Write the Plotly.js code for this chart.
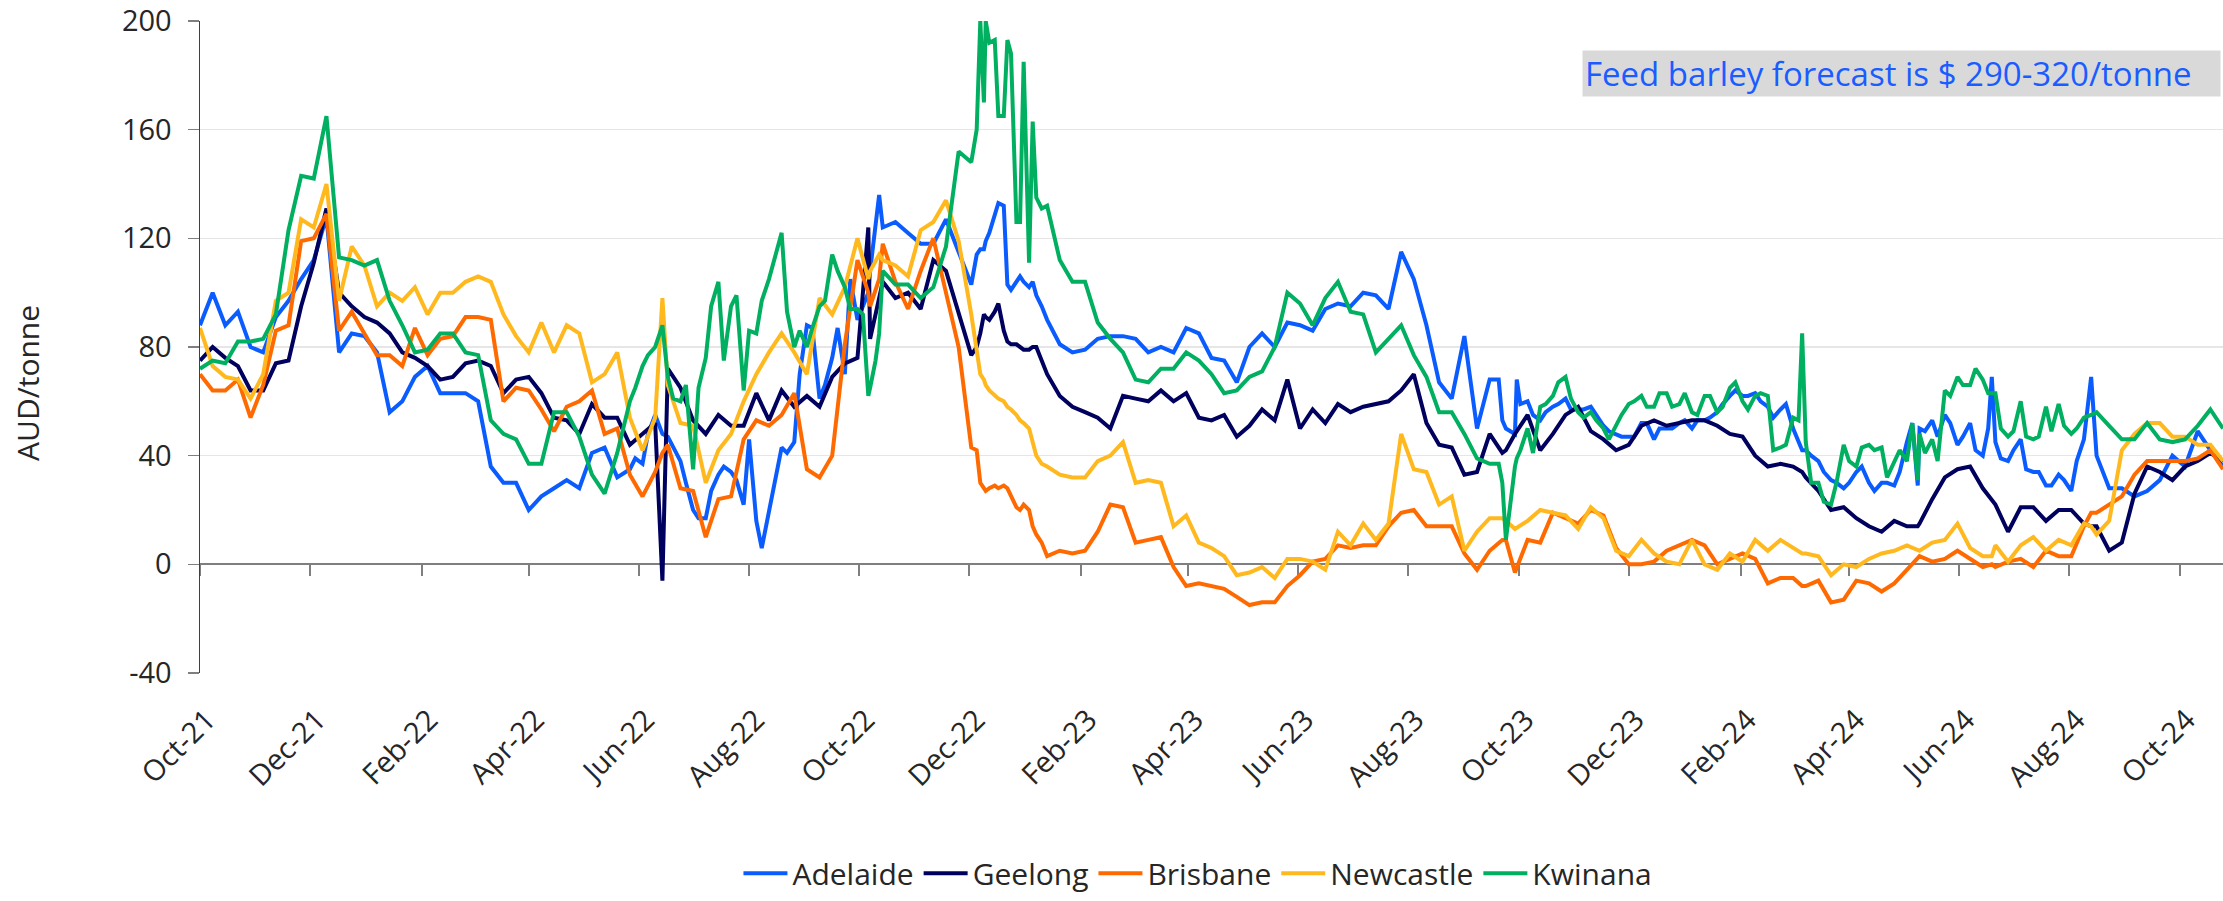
<!DOCTYPE html>
<html>
<head>
<meta charset="utf-8">
<script src="https://cdn.plot.ly/plotly-3.0.1.min.js"></script>
<style>
  html, body { margin: 0; padding: 0; background: #ffffff; }
  #chart { width: 2223px; height: 901px; }
</style>
</head>
<body>
<div id="chart"></div>
<script>
const dates = [
"2021-10-01","2021-10-08","2021-10-15","2021-10-22","2021-10-29",
"2021-11-05","2021-11-12","2021-11-19","2021-11-26",
"2021-12-03","2021-12-10","2021-12-17","2021-12-24","2021-12-31",
"2022-01-07","2022-01-14","2022-01-21","2022-01-28",
"2022-02-04","2022-02-11","2022-02-18","2022-02-25",
"2022-03-04","2022-03-11","2022-03-18","2022-03-25",
"2022-04-01","2022-04-08","2022-04-15","2022-04-22","2022-04-29",
"2022-05-06","2022-05-13","2022-05-20","2022-05-27",
"2022-06-03","2022-06-10","2022-06-14","2022-06-17","2022-06-24",
"2022-07-01","2022-07-08","2022-07-15","2022-07-22","2022-07-29",
"2022-08-05","2022-08-12","2022-08-19","2022-08-26",
"2022-09-02","2022-09-09","2022-09-16","2022-09-23","2022-09-30",
"2022-10-06","2022-10-07","2022-10-12","2022-10-14","2022-10-21","2022-10-28",
"2022-11-04","2022-11-11","2022-11-18","2022-11-25",
"2022-12-02","2022-12-05","2022-12-07","2022-12-09","2022-12-10","2022-12-12","2022-12-15","2022-12-17","2022-12-20","2022-12-22","2022-12-24","2022-12-27","2022-12-29","2022-12-31",
"2023-01-03","2023-01-05","2023-01-07","2023-01-10","2023-01-13","2023-01-20","2023-01-27",
"2023-02-03","2023-02-10","2023-02-17","2023-02-24",
"2023-03-03","2023-03-10","2023-03-17","2023-03-24","2023-03-31",
"2023-04-07","2023-04-14","2023-04-21","2023-04-28",
"2023-05-05","2023-05-12","2023-05-19","2023-05-26",
"2023-06-02","2023-06-09","2023-06-16","2023-06-23","2023-06-30",
"2023-07-07","2023-07-14","2023-07-21","2023-07-28",
"2023-08-04","2023-08-11","2023-08-18","2023-08-25",
"2023-09-01","2023-09-08","2023-09-15","2023-09-22","2023-09-24","2023-09-29",
"2023-10-06","2023-10-13","2023-10-20","2023-10-27",
"2023-11-03","2023-11-10","2023-11-17","2023-11-24",
"2023-12-01","2023-12-08","2023-12-15","2023-12-22","2023-12-29",
"2024-01-05","2024-01-12","2024-01-19","2024-01-26",
"2024-02-02","2024-02-09","2024-02-16","2024-02-23",
"2024-03-01","2024-03-06","2024-03-08","2024-03-15","2024-03-22","2024-03-29",
"2024-04-05","2024-04-12","2024-04-19","2024-04-26",
"2024-05-03","2024-05-09","2024-05-10","2024-05-17","2024-05-24","2024-05-31",
"2024-06-07","2024-06-14","2024-06-19","2024-06-21","2024-06-28",
"2024-07-05","2024-07-12","2024-07-19","2024-07-26",
"2024-08-02","2024-08-09","2024-08-13","2024-08-16","2024-08-23","2024-08-30",
"2024-09-06","2024-09-13","2024-09-20","2024-09-27",
"2024-10-04","2024-10-11","2024-10-18","2024-10-25"
];

const adelaide = [
88,100,88,93,80,
78,91,97,105,
112,128,78,85,84,
78,56,60,69,
73,63,63,63,
60,36,30,30,
20,25,28,31,28,
41,43,32,35,
37,55,48,47,38,
20,17,33,34,22,
16,20,43,45,
88,61,76,70,90,
100,108,136,124,126,122,
118,118,127,115,
103,114,116,116,119,122,129,133,132,103,101,104,106,104,
102,104,99,95,90,81,78,
79,83,84,84,
83,78,80,78,87,
85,76,75,67,
80,85,80,89,
88,86,94,96,95,
100,99,94,115,
105,88,67,61,
84,50,68,53,50,48,
60,53,58,61,
57,58,51,48,
47,52,46,50,52,
50,53,56,62,
62,63,58,57,
50,42,42,38,31,28,
34,30,30,29,
45,29,50,53,55,44,
52,40,69,45,38,
46,34,29,33,
27,46,69,40,28,28,
25,27,31,40,
36,49,42,36
];

const geelong = [
75,80,76,73,64,
64,74,75,95,
111,131,100,95,91,
89,85,78,76,
73,68,69,74,
75,73,63,68,
69,63,54,53,48,
59,54,54,44,
48,52,-6,72,65,
53,48,55,51,51,
63,53,64,58,
62,58,69,74,76,
124,83,99,104,98,100,
94,112,108,93,
77,80,85,92,91,90,93,96,86,82,81,81,80,79,
79,80,80,75,70,62,58,
56,54,50,62,
61,60,64,60,63,
54,53,55,47,
51,57,53,68,
50,57,52,59,56,
58,59,60,64,
70,52,44,43,
33,34,48,41,42,48,
55,42,48,55,
58,49,46,42,
44,51,53,51,52,
53,53,51,48,
47,40,36,37,
36,34,32,27,20,21,
17,14,12,16,
14,14,15,24,32,35,
36,28,24,22,12,
21,21,16,20,
20,15,14,14,5,8,
26,36,34,31,
36,38,41,38
];

const brisbane = [
70,64,64,68,54,
66,86,88,119,
120,129,86,93,85,
77,77,73,87,
77,83,84,91,
91,90,60,65,
64,57,49,58,60,
64,48,50,33,
25,34,41,44,28,
27,10,24,25,46,
53,51,55,63,
35,32,40,81,112,
100,95,105,118,104,94,
108,120,100,80,
43,42,30,28,27,28,29,28,29,28,25,21,20,22,
20,14,11,8,3,5,4,
5,12,22,21,
8,9,10,-1,-8,
-7,-8,-9,-12,
-15,-14,-14,-8,
-4,1,2,7,6,
7,7,14,19,
20,14,14,14,
4,-2,5,9,9,-3,
9,8,19,17,
15,20,18,6,
0,0,1,5,7,
9,7,0,2,
4,2,-7,-5,
-5,-8,-8,-6,-14,-13,
-6,-7,-10,-7,
-2,2,3,1,2,5,
2,-1,0,-1,1,
2,-1,5,3,
3,14,19,19,22,25,
33,38,38,38,
38,39,42,35
];

const newcastle = [
87,73,69,68,61,
70,97,100,127,
124,140,97,117,110,
95,100,97,102,
92,100,100,104,
106,104,92,84,
78,89,78,88,85,
67,70,78,54,
42,54,98,66,52,
51,30,42,48,60,
70,78,85,78,
70,98,92,102,120,
105,108,114,112,110,106,
123,126,134,119,
92,80,70,68,66,64,62,61,60,58,57,55,53,52,
50,45,40,37,36,33,32,
32,38,40,45,
30,31,30,14,18,
8,6,3,-4,
-3,-1,-5,2,
2,1,-2,12,7,
15,9,15,48,
35,34,22,25,
5,12,17,17,16,13,
16,20,19,18,
13,21,17,5,
3,9,4,1,0,
9,0,-2,4,
1,9,5,9,
6,4,4,3,-4,0,
-1,2,4,5,
7,5,5,8,9,15,
6,3,3,7,1,
7,10,5,9,
7,15,14,11,16,42,
48,52,52,47,
47,44,44,38
];

const kwinana = [
72,75,74,82,82,
83,92,123,143,
142,165,113,112,110,
112,97,88,78,
79,85,85,78,
77,53,48,46,
37,37,56,56,47,
33,26,41,60,
73,80,88,69,60,
35,76,104,95,64,
85,105,122,80,
80,95,114,102,94,
62,65,85,108,103,103,
98,102,117,152,
148,160,200,170,200,192,193,165,165,193,188,126,126,185,
111,163,135,131,132,112,104,
104,89,83,78,
68,67,72,72,78,
75,70,63,64,
69,71,80,100,
96,88,98,104,93,
92,78,83,88,
77,69,56,56,
48,39,37,30,9,36,
50,58,62,69,
56,56,50,51,
59,62,58,63,59,
56,62,56,65,
60,62,62,43,
54,85,45,30,22,44,
36,44,43,38,
38,31,48,46,64,69,
66,68,63,63,47,
60,46,58,59,
48,54,55,56,51,46,
46,52,46,45,
46,51,57,50
];

// extra mid-week readings for the two spikiest series (Adelaide, Kwinana)
const midDates = [
"2022-05-30","2022-06-06","2022-06-20","2022-06-27","2022-07-04","2022-07-11","2022-07-18","2022-07-25",
"2022-08-01","2022-08-08","2022-08-15","2022-08-22","2022-08-29","2022-09-05","2022-09-12","2022-09-19",
"2022-09-26","2022-10-03","2022-10-10",
"2023-09-20","2023-09-30",
"2023-10-02","2023-10-09","2023-10-16","2023-10-23","2023-10-30","2023-11-06","2023-11-13","2023-11-20",
"2023-11-27","2023-12-04","2023-12-11","2023-12-18","2023-12-25","2024-01-01","2024-01-08","2024-01-15",
"2024-01-22","2024-01-29","2024-02-05","2024-02-12","2024-02-19","2024-02-26","2024-03-04","2024-03-11",
"2024-03-18","2024-03-25","2024-04-01","2024-04-08","2024-04-15","2024-04-22","2024-04-29","2024-05-06",
"2024-05-13","2024-05-20","2024-05-27","2024-06-03","2024-06-10","2024-06-17","2024-06-24","2024-07-01",
"2024-07-08","2024-07-15","2024-07-22","2024-07-29","2024-08-05"
];

const adelaideMid = [
39,48,43,30,17,27,36,31,
46,6,29,41,70,87,66,87,
105,95,126,
68,68,
59,55,56,59,57,57,55,49,
47,47,52,50,50,53,53,54,
59,64,62,60,54,59,45,40,
34,30,30,36,27,30,34,52,
49,47,52,47,42,50,39,42,
35,34,29,31,38
];

const kwinanaMid = [
65,77,61,66,65,95,75,99,
86,97,112,93,86,87,97,108,
94,92,75,
37,39,
42,41,59,67,61,54,53,46,
55,60,58,63,58,63,55,62,
58,67,57,63,42,44,53,30,
23,30,38,43,42,32,42,52,
41,38,62,66,72,63,50,49,
47,47,49,51,50
];

const seriesNames = ["Adelaide", "Geelong", "Brisbane", "Newcastle", "Kwinana"];
const seriesValues = [adelaide, geelong, brisbane, newcastle, kwinana];
const seriesExtra = [adelaideMid, null, null, null, kwinanaMid];
const seriesColors = ["#0a5cff", "#00005e", "#ff6a00", "#ffb91e", "#00b060"];

const yTickVals = [-40, 0, 40, 80, 120, 160, 200];
const yTickText = ["-40", "0", "40", "80", "120", "160", "200"];
const yTitle = "AUD/tonne";
const noteText = "Feed barley forecast is $ 290-320/tonne";
const xStart = "2021-10-01";
const xEnd = "2024-10-25";

function mergeSeries(baseX, baseY, extraX, extraY) {
  let pairs = baseX.map((d, i) => [d, baseY[i]]);
  if (extraY) pairs = pairs.concat(extraX.map((d, i) => [d, extraY[i]]));
  pairs.sort((a, b) => (a[0] < b[0] ? -1 : a[0] > b[0] ? 1 : 0));
  return { x: pairs.map(p => p[0]), y: pairs.map(p => p[1]) };
}

const traces = seriesNames.map((name, i) => {
  const s = mergeSeries(dates, seriesValues[i], midDates, seriesExtra[i]);
  return {
    type: "scatter",
    mode: "lines",
    name: name,
    x: s.x,
    y: s.y,
    line: { color: seriesColors[i], width: 4 },
    hoverinfo: "x+y+name"
  };
});

// helper trace so the zero-line axis (tick marks at y = 0) is rendered
traces.push({
  type: "scatter", mode: "lines", x: [dates[0]], y: [null],
  xaxis: "x2", yaxis: "y", showlegend: false, hoverinfo: "skip"
});

const layout = {
  width: 2223,
  height: 901,
  margin: { l: 200, r: 0, t: 21, b: 228, pad: 0, autoexpand: false },
  paper_bgcolor: "#ffffff",
  plot_bgcolor: "#ffffff",
  font: { family: "Open Sans, sans-serif", color: "#262626", size: 29 },
  showlegend: true,
  xaxis: {
    type: "date",
    range: [xStart, xEnd],
    tick0: xStart,
    dtick: "M2",
    tickformat: "%b-%y",
    tickangle: -45,
    ticks: "",
    showline: false,
    showgrid: false,
    zeroline: false,
    automargin: false,
    tickfont: { size: 29, color: "#262626" },
    ticklabelstandoff: 23,
    ticklabelshift: 7
  },
  xaxis2: {
    type: "date",
    overlaying: "x",
    anchor: "free",
    position: 40 / 240,
    range: [xStart, xEnd],
    tick0: xStart,
    dtick: "M2",
    ticks: "outside",
    ticklen: 11,
    tickwidth: 2,
    tickcolor: "#7f7f7f",
    showticklabels: false,
    showline: true,
    linecolor: "#7f7f7f",
    linewidth: 2,
    showgrid: false,
    zeroline: false,
    automargin: false,
    layer: "below traces"
  },
  yaxis: {
    range: [-40, 200],
    tickmode: "array",
    tickvals: yTickVals,
    ticktext: yTickText,
    ticks: "outside",
    ticklen: 11,
    tickwidth: 1.5,
    tickcolor: "#7f7f7f",
    showline: true,
    linecolor: "#404040",
    linewidth: 1.5,
    showgrid: true,
    gridcolor: "#e6e6e6",
    gridwidth: 1.5,
    zeroline: false,
    automargin: false,
    tickfont: { size: 29, color: "#262626" },
    ticklabelstandoff: 10
  },
  legend: {
    orientation: "h",
    xref: "paper",
    yref: "container",
    x: 0.4933,
    xanchor: "center",
    y: 0.002,
    yanchor: "bottom",
    itemwidth: 44,
    font: { size: 30, color: "#262626" },
    bgcolor: "rgba(0,0,0,0)"
  },
  annotations: [
    {
      text: yTitle,
      xref: "paper", yref: "paper",
      x: -0.085, y: 0.445,
      xanchor: "center", yanchor: "middle",
      textangle: -90,
      showarrow: false,
      font: { size: 30, color: "#262626" }
    },
    {
      text: noteText,
      xref: "paper", yref: "paper",
      x: 0.6831, y: 0.9549,
      xanchor: "left", yanchor: "top",
      showarrow: false,
      bgcolor: "#d9d9d9",
      borderpad: 2,
      width: 633,
      height: 41,
      align: "left",
      valign: "middle",
      font: { size: 33, color: "#1a5cff" }
    }
  ]
};

Plotly.newPlot("chart", traces, layout, { displayModeBar: false, staticPlot: true });
</script>
</body>
</html>
